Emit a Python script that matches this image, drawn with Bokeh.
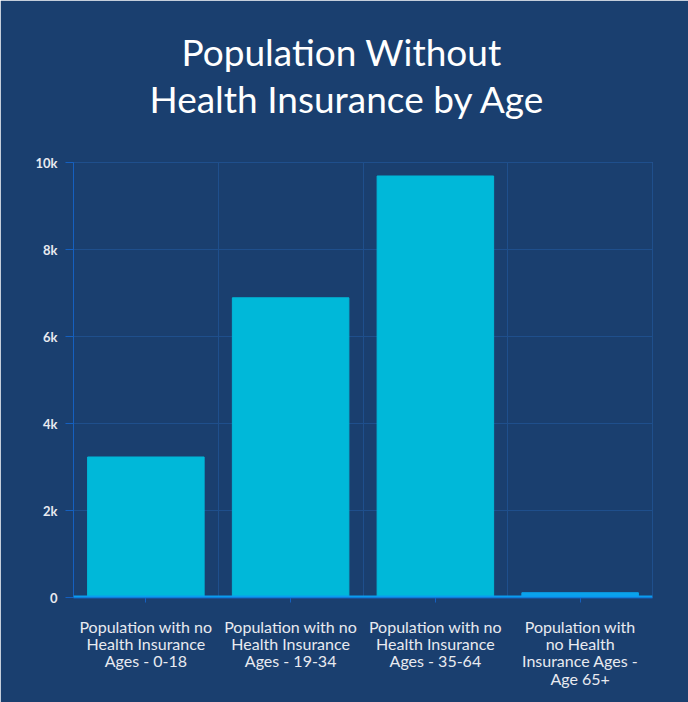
from bokeh.plotting import figure
from bokeh.models import ColumnDataSource, FixedTicker, Range1d, Title, Span
from bokeh.embed import file_html
from bokeh.resources import INLINE

categories = [
    "Population with no\nHealth Insurance\nAges - 0-18",
    "Population with no\nHealth Insurance\nAges - 19-34",
    "Population with no\nHealth Insurance\nAges - 35-64",
    "Population with\nno Health\nInsurance Ages -\nAge 65+",
]
values = [3230, 6890, 9690, 110]
bar_colors = ["#00b8d9", "#00b8d9", "#00b8d9", "#0aa3ec"]
y_ticks = [0, 2000, 4000, 6000, 8000, 10000]
y_tick_labels = ["0", "2k", "4k", "6k", "8k", "10k"]
title_lines = ["Population Without", "Health Insurance by Age"]

BG = "#1a3f6f"
positions = [i + 0.5 for i in range(len(categories))]
src = ColumnDataSource(dict(x=positions, top=values, color=bar_colors))

p = figure(width=688, height=702, output_backend="svg", toolbar_location=None,
           x_range=Range1d(0, len(categories)), y_range=Range1d(0, 10000),
           min_border_left=73, min_border_right=36, min_border_bottom=105,
           min_border_top=162)
p.background_fill_color = BG
p.border_fill_color = BG
p.outline_line_color = "#1f4f8c"
p.outline_line_width = 1

def title_line(text, offset, size="37px"):
    return Title(text=text, align="left", offset=offset, text_font="Lato",
                 text_font_size=size, text_font_style="normal",
                 text_color="#ffffff", standoff=0, text_line_height=0.92)

p.title = title_line(title_lines[0], 108)
p.add_layout(title_line(" ", 0, "33px"), "above")  # spacer between title and frame
p.add_layout(title_line(title_lines[1], 76), "above")

p.vbar(x="x", top="top", width=0.805, color="color", source=src)
p.add_layout(Span(location=0, dimension="width", line_color="#0a9cf0", line_width=4))

# grids
p.xgrid.ticker = FixedTicker(ticks=list(range(len(categories) + 1)))
p.ygrid.ticker = FixedTicker(ticks=y_ticks)
for g in (p.xgrid, p.ygrid):
    g.grid_line_color = "#1f4f8c"
    g.grid_line_width = 1

# x axis
p.xaxis.ticker = FixedTicker(ticks=positions)
p.xaxis.major_label_overrides = {pos: lab for pos, lab in zip(positions, categories)}
p.xaxis.axis_line_color = "#1560c0"
p.xaxis.axis_line_width = 2
p.xaxis.major_tick_line_color = "#1560c0"
p.xaxis.major_tick_out = 5
p.xaxis.major_tick_in = 0
p.xaxis.minor_tick_line_color = None
p.xaxis.major_label_text_color = "#e8eaf0"
p.xaxis.major_label_text_font = "Lato"
p.xaxis.major_label_text_font_size = "16px"
p.xaxis.major_label_standoff = 14
p.xaxis.major_label_text_line_height = 0.92

# y axis
p.yaxis.ticker = FixedTicker(ticks=y_ticks)
p.yaxis.major_label_overrides = {v: l for v, l in zip(y_ticks, y_tick_labels)}
p.yaxis.axis_line_color = "#1560c0"
p.yaxis.axis_line_width = 1
p.yaxis.major_tick_line_color = "#1560c0"
p.yaxis.major_tick_out = 8
p.yaxis.major_tick_in = 0
p.yaxis.minor_tick_line_color = None
p.yaxis.major_label_text_color = "#e8eaf0"
p.yaxis.major_label_text_font = "Lato"
p.yaxis.major_label_text_font_style = "bold"
p.yaxis.major_label_text_font_size = "13px"
p.yaxis.major_label_standoff = 8

open("out.html", "w").write(file_html(p, INLINE))
